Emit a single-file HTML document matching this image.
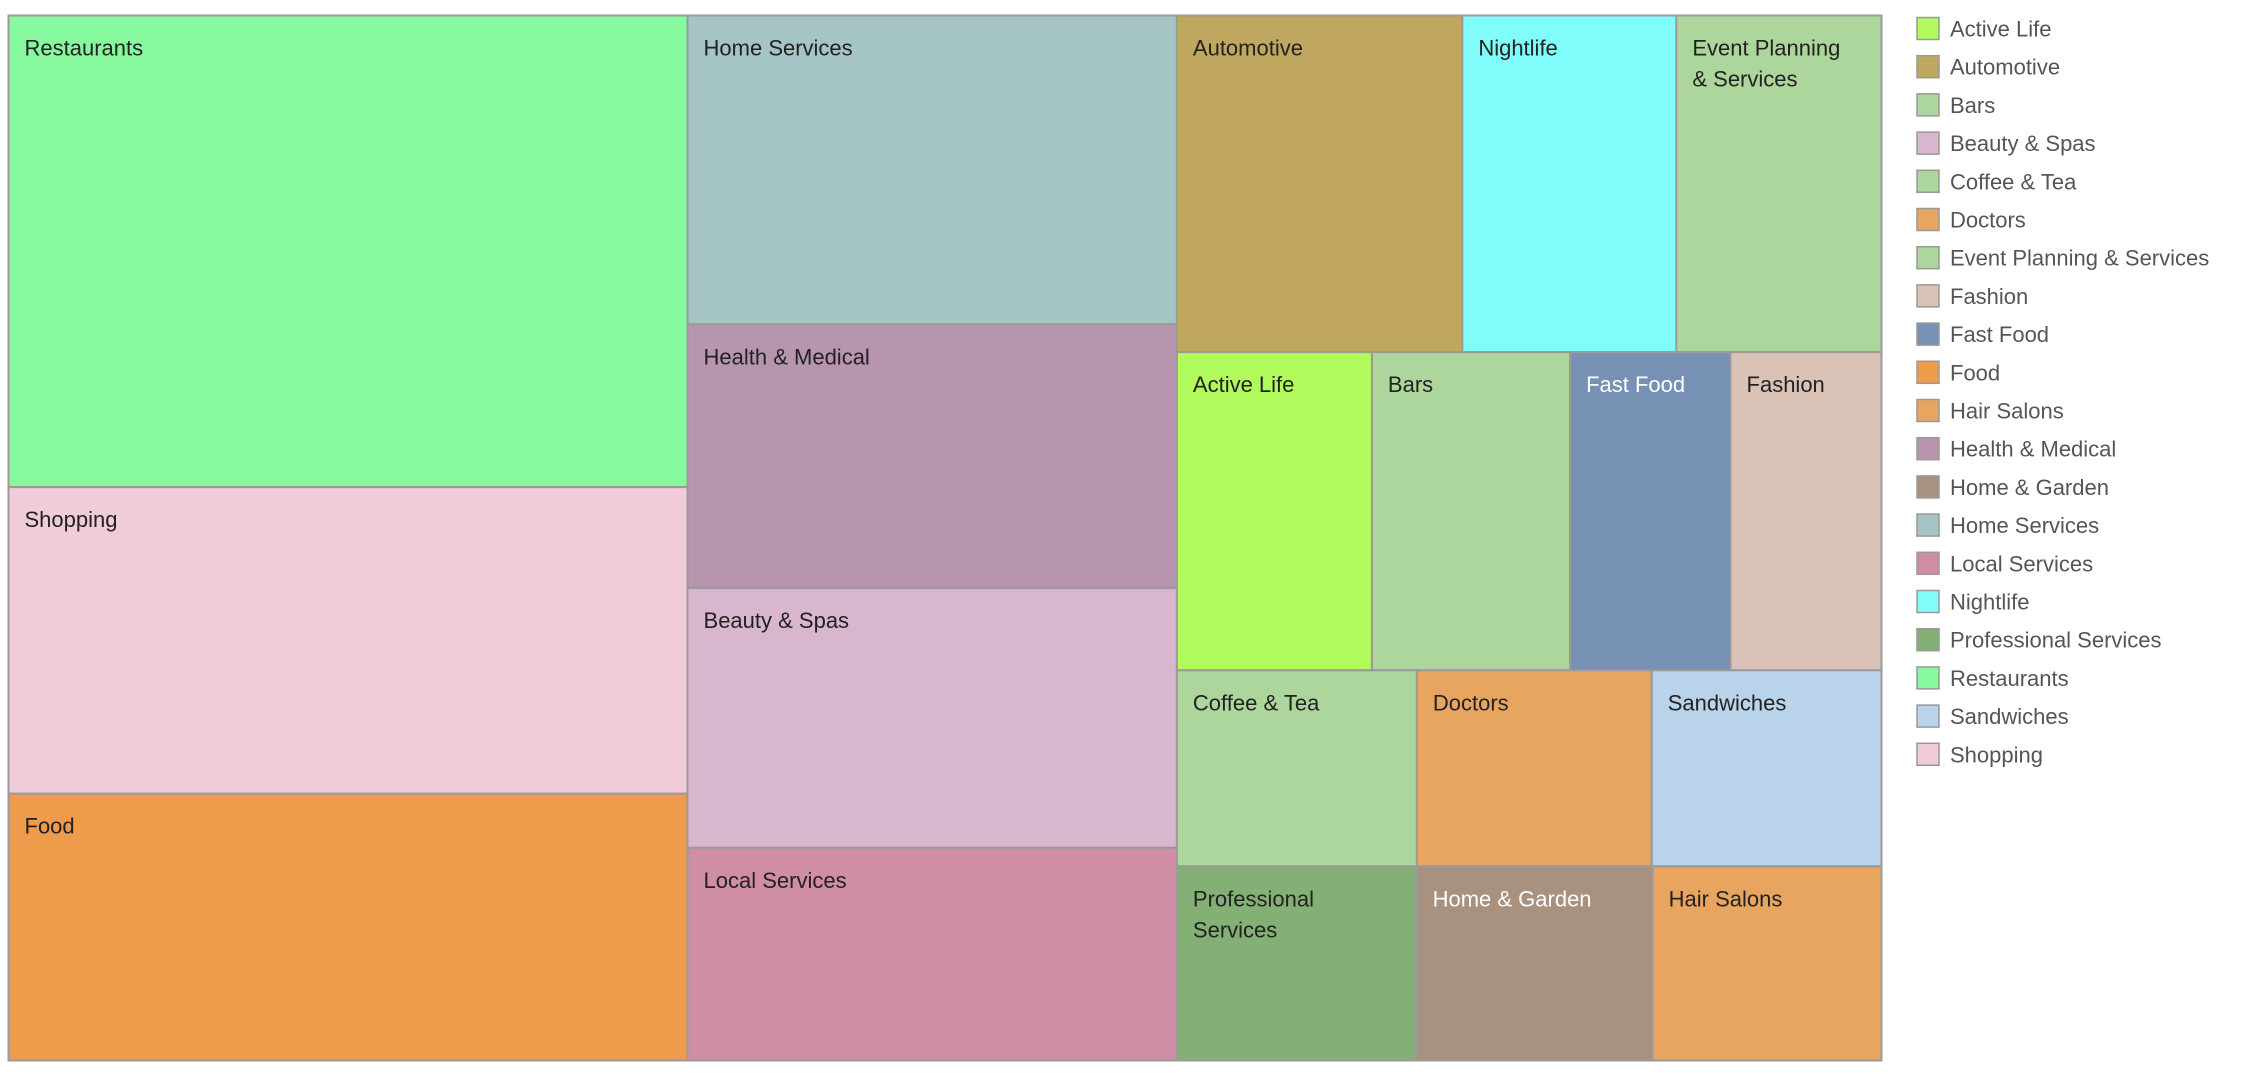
<!DOCTYPE html>
<html><head><meta charset="utf-8"><style>
html,body{margin:0;padding:0;background:#fff;width:2242px;height:1073px;overflow:hidden}
svg{display:block}
text{font-family:"Liberation Sans","DejaVu Sans",sans-serif}
</style></head><body>
<svg id="chart" width="2242" height="1073" xmlns="http://www.w3.org/2000/svg"></svg>
<script>
// Data arrays
const categories = ["Restaurants","Shopping","Food","Home Services","Health & Medical","Beauty & Spas","Local Services","Automotive","Nightlife","Event Planning & Services","Active Life","Bars","Fast Food","Fashion","Coffee & Tea","Doctors","Sandwiches","Professional Services","Home & Garden","Hair Salons"];
const values = [320,208,181,151,129,127,104,96,72,69,62,63,51,48,47,46,45,46.5,45.8,44.4];
// layout groups: columns -> rows -> category indices
const columns = [[[0],[1],[2]],[[3],[4],[5],[6]],[[7,8,9],[10,11,12,13],[14,15,16],[17,18,19]]];
const colors = {"Restaurants":"#86F99F","Shopping":"#F0CBD9","Food":"#EF9B4C","Home Services":"#A4C5C3","Health & Medical":"#B795AF","Beauty & Spas":"#D7B6CE","Local Services":"#D08DA6","Automotive":"#BFA75F","Nightlife":"#80FCFB","Event Planning & Services":"#ADD69C","Active Life":"#B0FB5B","Bars":"#ADD69C","Fast Food":"#7691B3","Fashion":"#DAC3B6","Coffee & Tea":"#ADD69C","Doctors":"#E8A560","Sandwiches":"#B9D4EA","Professional Services":"#84AF75","Home & Garden":"#A9917F","Hair Salons":"#E8A560"};
const labelLines = {"Event Planning & Services":["Event Planning","& Services"],"Professional Services":["Professional","Services"]};
const whiteLabels = ["Fast Food","Home & Garden"];
const legendOrder = ["Active Life","Automotive","Bars","Beauty & Spas","Coffee & Tea","Doctors","Event Planning & Services","Fashion","Fast Food","Food","Hair Salons","Health & Medical","Home & Garden","Home Services","Local Services","Nightlife","Professional Services","Restaurants","Sandwiches","Shopping"];

const NS="http://www.w3.org/2000/svg";
const svg=document.getElementById('chart');
const X0=8.5,Y0=15.5,W=1873,H=1045;
function sum(a){return a.reduce((s,v)=>s+v,0);}
function rowSum(r){return sum(r.map(i=>values[i]));}
const total=sum(columns.map(c=>sum(c.map(rowSum))));
let cx=X0;
columns.forEach((col,ci)=>{
  const cs=sum(col.map(rowSum));
  const cw=W*cs/total;
  let cy=Y0;
  col.forEach(row=>{
    const rs=rowSum(row);
    const rh=H*rs/cs;
    let rx=cx;
    row.forEach(i=>{
      const w=cw*values[i]/rs;
      const name=categories[i];
      const g=document.createElementNS(NS,'g');
      
      
      const r=document.createElementNS(NS,'rect');
      r.setAttribute('x',rx);r.setAttribute('y',cy);r.setAttribute('width',w);r.setAttribute('height',rh);
      r.setAttribute('fill',colors[name]);r.setAttribute('stroke','#9a9a9a');r.setAttribute('stroke-width','2');
      g.appendChild(r);
      const lines=labelLines[name]||[name];
      lines.forEach((ln,k)=>{
        const t=document.createElementNS(NS,'text');
        t.setAttribute('x',rx+16);t.setAttribute('y',cy+40+k*31);
        t.setAttribute('font-size','22');
        t.setAttribute('fill',whiteLabels.includes(name)?'#ffffff':'#222');
        
        
        t.textContent=ln;g.appendChild(t);
      });
      svg.appendChild(g);
      rx+=w;
    });
    cy+=rh;
  });
  cx+=cw;
});
legendOrder.forEach((name,k)=>{
  const y=28.5+k*38.2;
  const g=document.createElementNS(NS,'g');
  
  
  const r=document.createElementNS(NS,'rect');
  r.setAttribute('x',1917);r.setAttribute('y',y-11);r.setAttribute('width',22);r.setAttribute('height',22);
  r.setAttribute('fill',colors[name]);r.setAttribute('stroke','#999');r.setAttribute('stroke-width','1.5');
  g.appendChild(r);
  const t=document.createElementNS(NS,'text');
  t.setAttribute('x',1950);t.setAttribute('y',y+8);t.setAttribute('font-size','22');t.setAttribute('fill','#555');
  
  
  t.textContent=name;g.appendChild(t);
  svg.appendChild(g);
});
</script>
</body></html>
